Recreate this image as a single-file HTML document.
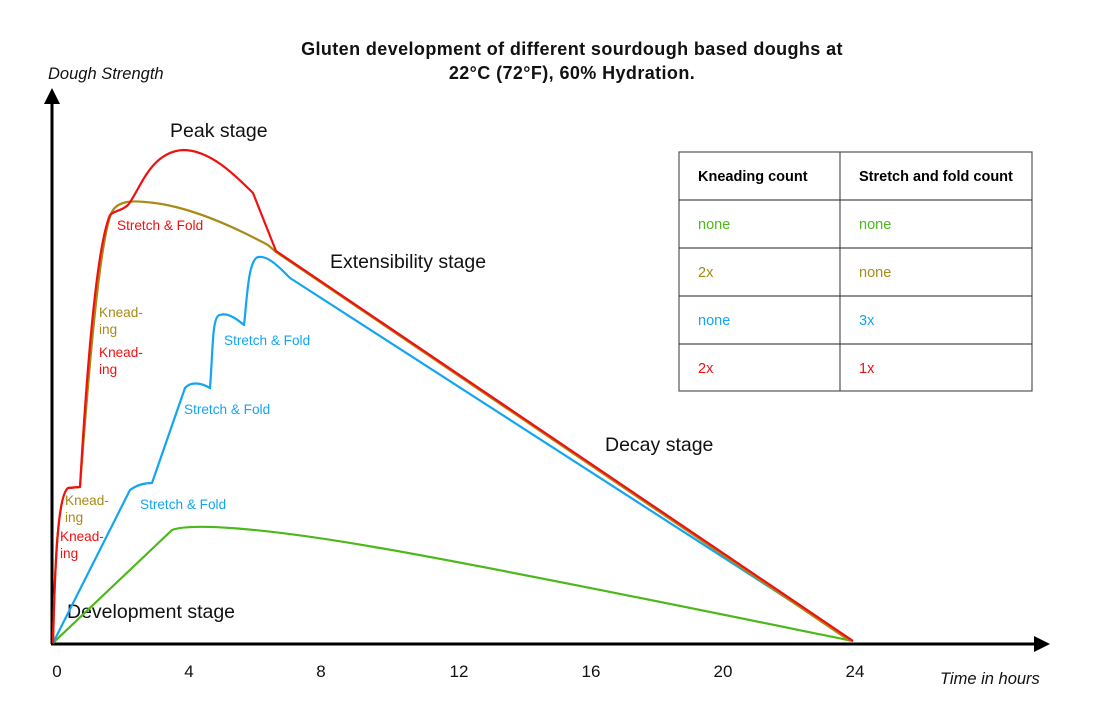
<!DOCTYPE html>
<html><head><style>body{margin:0;background:#fff}svg{display:block}</style></head><body>
<svg width="1108" height="706" xmlns="http://www.w3.org/2000/svg" font-family="Liberation Sans, sans-serif">
<rect width="1108" height="706" fill="#fff"/>
<text x="572" y="55" text-anchor="middle" font-size="18" font-weight="bold" letter-spacing="0.4" fill="#111">Gluten development of different sourdough based doughs at</text>
<text x="572" y="79" text-anchor="middle" font-size="18" font-weight="bold" letter-spacing="0.4" fill="#111">22°C (72°F), 60% Hydration.</text>
<text x="48" y="79" font-size="16.5" font-style="italic" fill="#111">Dough Strength</text>
<text x="940" y="684" font-size="16.5" font-style="italic" fill="#111">Time in hours</text>
<line x1="52" y1="644" x2="52" y2="100" stroke="#000" stroke-width="3"/>
<polygon points="52,88 44,104 60,104" fill="#000"/>
<line x1="51" y1="644" x2="1036" y2="644" stroke="#000" stroke-width="3"/>
<polygon points="1050,644 1034,636 1034,652" fill="#000"/>
<g font-size="17" fill="#111" text-anchor="middle">
<text x="57" y="677">0</text><text x="189" y="677">4</text><text x="321" y="677">8</text><text x="459" y="677">12</text><text x="591" y="677">16</text><text x="723" y="677">20</text><text x="855" y="677">24</text>
</g>
<g font-size="19.5" fill="#111">
<text x="170" y="137">Peak stage</text>
<text x="330" y="268">Extensibility stage</text>
<text x="605" y="451">Decay stage</text>
<text x="67" y="618">Development stage</text>
</g>
<g fill="none" stroke-width="2.2" stroke-linejoin="round">
<path d="M53,643 L172,530 C190,523 260,527 380,548 S700,610 853,641" stroke="#4cb81a"/>
<path d="M53,643 L130,490 C140,483 148,483 152,483 L185,388 C190,382 200,382 210,388 C213,350 212,315 220,315 C228,312 238,320 244,325 C247,300 248,260 258,257 C268,255 280,268 290,278 L853,641" stroke="#12a5f2"/>
<path d="M53,643 C55,560 58,495 68,488 L80,487 C88,380 100,230 113,210 C120,200 135,201 145,202 C190,205 240,230 268,245 L276,252 L850,641" stroke="#a88a14"/>
<path d="M53,643 C55,560 58,495 68,488 L80,487 C85,400 95,250 110,215 C115,210 120,212 128,205 C140,190 150,152 183,150 C210,150 235,175 253,193 L276,251 L853,641" stroke="#f01010"/>
</g>
<g font-size="13.6">
<text x="117" y="230" fill="#f01010">Stretch &amp; Fold</text>
<text x="99" y="317" fill="#a88a14">Knead-</text><text x="99" y="334" fill="#a88a14">ing</text>
<text x="99" y="357" fill="#f01010">Knead-</text><text x="99" y="374" fill="#f01010">ing</text>
<text x="65" y="505" fill="#a88a14">Knead-</text><text x="65" y="522" fill="#a88a14">ing</text>
<text x="60" y="541" fill="#f01010">Knead-</text><text x="60" y="558" fill="#f01010">ing</text>
<text x="224" y="345" fill="#12a5f2">Stretch &amp; Fold</text>
<text x="184" y="414" fill="#12a5f2">Stretch &amp; Fold</text>
<text x="140" y="509" fill="#12a5f2">Stretch &amp; Fold</text>
</g>
<g stroke="#555" stroke-width="1.2" fill="none">
<rect x="679" y="152" width="353" height="239"/>
<line x1="840" y1="152" x2="840" y2="391"/>
</g>
<g stroke="#222" stroke-width="1">
<line x1="679" y1="200" x2="1032" y2="200"/><line x1="679" y1="248" x2="1032" y2="248"/>
<line x1="679" y1="296" x2="1032" y2="296"/><line x1="679" y1="344" x2="1032" y2="344"/>
</g>
<g font-size="14.5">
<text x="698" y="181" font-weight="bold" fill="#000">Kneading count</text>
<text x="859" y="181" font-weight="bold" fill="#000">Stretch and fold count</text>
<text x="698" y="229" fill="#4cb81a">none</text><text x="859" y="229" fill="#4cb81a">none</text>
<text x="698" y="277" fill="#a88a14">2x</text><text x="859" y="277" fill="#a88a14">none</text>
<text x="698" y="325" fill="#12a5f2">none</text><text x="859" y="325" fill="#12a5f2">3x</text>
<text x="698" y="373" fill="#f01010">2x</text><text x="859" y="373" fill="#f01010">1x</text>
</g>
</svg>
</body></html>
